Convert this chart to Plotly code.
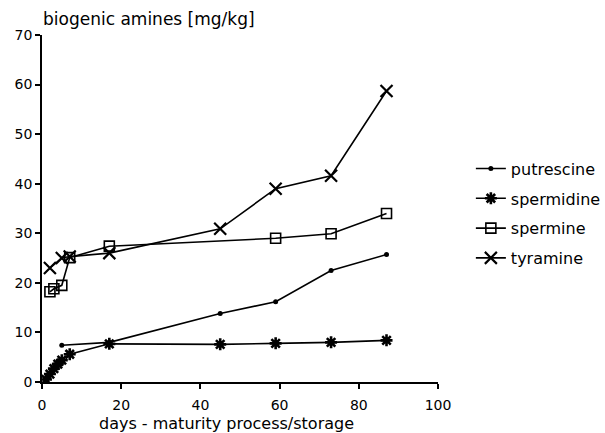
import plotly.graph_objects as go

days_put = [5, 17, 45, 59, 73, 87]
putrescine = [7.4, 8.0, 13.8, 16.2, 22.5, 25.7]

days_spd = [1, 2, 3, 4, 5, 7, 17, 45, 59, 73, 87]
spermidine = [0.5, 1.6, 2.7, 3.6, 4.4, 5.6, 7.7, 7.6, 7.8, 8.0, 8.4]

days_spm = [2, 3, 5, 7, 17, 59, 73, 87]
spermine = [18.2, 18.8, 19.5, 25.1, 27.4, 29.0, 29.9, 34.0]

days_tyr = [2, 5, 7, 17, 45, 59, 73, 87]
tyramine = [23.0, 25.0, 25.3, 26.0, 30.9, 39.0, 41.6, 58.7]

x_ticks = [0, 20, 40, 60, 80, 100]
y_ticks = [0, 10, 20, 30, 40, 50, 60, 70]

FONT = "DejaVu Sans, Arial, sans-serif"

fig = go.Figure()
fig.add_trace(go.Scatter(x=days_put, y=putrescine, name="putrescine", mode="lines+markers",
                         line=dict(color="black", width=1.6),
                         marker=dict(symbol="circle", size=5, color="black"),
                         legendgroup="a"))
fig.add_trace(go.Scatter(x=days_spd, y=spermidine, name="spermidine", mode="lines+markers",
                         line=dict(color="black", width=1.6),
                         marker=dict(symbol="asterisk-open", size=10, color="black",
                                     line=dict(color="black", width=2.6)),
                         legendgroup="b"))
fig.add_trace(go.Scatter(x=days_spm, y=spermine, name="spermine", mode="lines+markers",
                         line=dict(color="black", width=1.6),
                         marker=dict(symbol="square-open", size=10, color="black",
                                     line=dict(color="black", width=1.6)),
                         legendgroup="c"))
fig.add_trace(go.Scatter(x=days_tyr, y=tyramine, name="tyramine", mode="lines+markers",
                         line=dict(color="black", width=1.6),
                         marker=dict(symbol="x-thin-open", size=12, color="black",
                                     line=dict(color="black", width=2.2)),
                         legendgroup="d"))

M_L, M_R, M_T, M_B = 42, 167, 35, 51
PLOT_H = 433 - M_T - M_B

fig.update_layout(
    width=605, height=433,
    margin=dict(l=M_L, r=M_R, t=M_T, b=M_B, autoexpand=False),
    paper_bgcolor="white", plot_bgcolor="white",
    font=dict(family=FONT, size=14, color="black"),
    showlegend=True,
    legend=dict(x=1.083, y=0.664, xanchor="left", yanchor="top",
                font=dict(family=FONT, size=16, color="black"),
                tracegroupgap=6, bgcolor="rgba(0,0,0,0)"),
    xaxis=dict(range=[0, 100], tickvals=x_ticks, showgrid=False, zeroline=False,
               showline=True, linecolor="black", linewidth=1.6, automargin=False,
               ticks="outside", ticklen=5, tickcolor="black", tickwidth=1.5,
               ticklabelstandoff=4, tickfont=dict(size=14)),
    yaxis=dict(range=[0, 70], tickvals=y_ticks, showgrid=False, zeroline=False,
               showline=True, linecolor="black", linewidth=1.6, automargin=False,
               ticks="outside", ticklen=5, tickcolor="black", tickwidth=1.5,
               tickfont=dict(size=14)),
    annotations=[
        dict(text="biogenic amines [mg/kg]", xref="paper", yref="paper",
             x=0, y=1 + 27 / PLOT_H, xanchor="left", yanchor="top", borderpad=0,
             showarrow=False, font=dict(family=FONT, size=17, color="black")),
        dict(text="days - maturity process/storage", xref="paper", yref="paper",
             x=0.465, y=0, yshift=-31, xanchor="center", yanchor="top", borderpad=0,
             showarrow=False, font=dict(family=FONT, size=16, color="black")),
    ],
)

fig.write_html("out.html", config={"displayModeBar": False},
               post_script="document.body.style.margin='0';document.body.style.overflow='hidden';")
